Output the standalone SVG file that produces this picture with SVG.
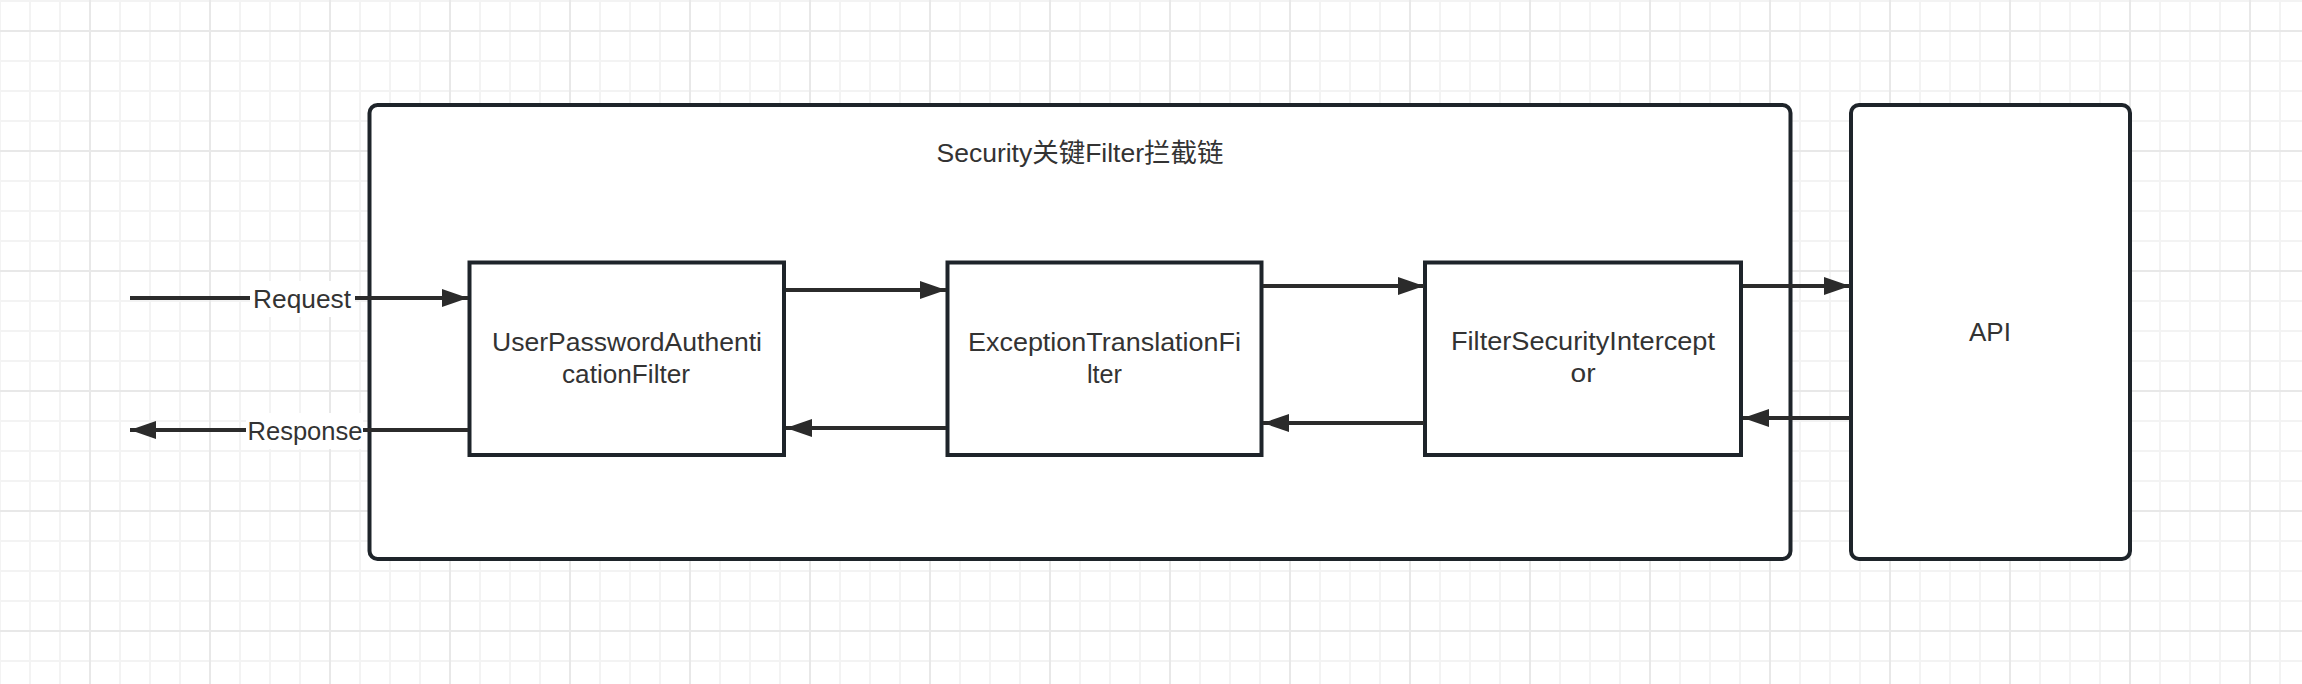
<svg xmlns="http://www.w3.org/2000/svg" width="2302" height="684" viewBox="0 0 2302 684">
  <style>
    .box { fill: #ffffff; stroke: #1e242a; stroke-width: 4; }
    .conn { stroke: #2b2b2b; stroke-width: 4; fill: none; }
    .txt { font-family: "Liberation Sans", "Noto Sans CJK SC", sans-serif; font-size: 26px; fill: #333333; text-anchor: middle; }
  </style>
  <defs>
    <pattern id="gridMinor" patternUnits="userSpaceOnUse" x="-1" y="0" width="30" height="30">
      <rect x="0" y="0" width="2" height="30" fill="#f3f3f3"/>
      <rect x="0" y="0" width="30" height="2" fill="#f3f3f3"/>
    </pattern>
    <pattern id="gridMajor" patternUnits="userSpaceOnUse" x="89" y="30" width="120" height="120">
      <rect x="0" y="0" width="2" height="120" fill="#e8e8e8"/>
      <rect x="0" y="0" width="120" height="2" fill="#e8e8e8"/>
    </pattern>
    <marker id="arrow" markerUnits="userSpaceOnUse" markerWidth="28" markerHeight="20" refX="27" refY="10" orient="auto" overflow="visible">
      <path d="M1,1 L27,10 L1,19 z" fill="#2b2b2b"/>
    </marker>
  </defs>

  <rect x="0" y="0" width="2302" height="684" fill="#ffffff"/>
  <rect x="0" y="0" width="2302" height="684" fill="url(#gridMinor)"/>
  <rect x="0" y="0" width="2302" height="684" fill="url(#gridMajor)"/>

  <g id="security-chain">
    <rect class="box" x="369.5" y="105" width="1421" height="454" rx="8" ry="8"/>
    <text class="txt" x="1080" y="162" textLength="287" lengthAdjust="spacingAndGlyphs">Security关键Filter拦截链</text>
  </g>

  <g id="api">
    <rect class="box" x="1851" y="105" width="279" height="454" rx="8" ry="8"/>
    <text class="txt" x="1990" y="341">API</text>
  </g>

  <g id="user-password-filter">
    <rect class="box" x="469.5" y="262.5" width="314.5" height="192.5"/>
    <text class="txt" x="627" y="351" textLength="270" lengthAdjust="spacingAndGlyphs">UserPasswordAuthenti</text>
    <text class="txt" x="626" y="383" textLength="128" lengthAdjust="spacingAndGlyphs">cationFilter</text>
  </g>

  <g id="exception-translation-filter">
    <rect class="box" x="947.5" y="262.5" width="314" height="192.5"/>
    <text class="txt" x="1104.5" y="351" textLength="273" lengthAdjust="spacingAndGlyphs">ExceptionTranslationFi</text>
    <text class="txt" x="1104.5" y="383" textLength="35" lengthAdjust="spacingAndGlyphs">lter</text>
  </g>

  <g id="filter-security-interceptor">
    <rect class="box" x="1425" y="262.5" width="316" height="192.5"/>
    <text class="txt" x="1583" y="350" textLength="264" lengthAdjust="spacingAndGlyphs">FilterSecurityIntercept</text>
    <text class="txt" x="1583" y="382" textLength="25" lengthAdjust="spacingAndGlyphs">or</text>
  </g>

  <g id="connectors">
    <line class="conn" x1="130" y1="298" x2="468" y2="298" marker-end="url(#arrow)"/>
    <line class="conn" x1="468" y1="430" x2="130" y2="430" marker-end="url(#arrow)"/>
    <line class="conn" x1="786" y1="290" x2="946" y2="290" marker-end="url(#arrow)"/>
    <line class="conn" x1="946" y1="428" x2="786" y2="428" marker-end="url(#arrow)"/>
    <line class="conn" x1="1263" y1="286" x2="1424" y2="286" marker-end="url(#arrow)"/>
    <line class="conn" x1="1424" y1="423" x2="1263" y2="423" marker-end="url(#arrow)"/>
    <line class="conn" x1="1743" y1="286" x2="1850" y2="286" marker-end="url(#arrow)"/>
    <line class="conn" x1="1850" y1="418" x2="1743" y2="418" marker-end="url(#arrow)"/>
    <rect x="250" y="281" width="105" height="36" fill="#ffffff"/>
    <text class="txt" x="302" y="308" textLength="98" lengthAdjust="spacingAndGlyphs">Request</text>
    <rect x="246" y="413" width="117" height="36" fill="#ffffff"/>
    <text class="txt" x="305" y="440" textLength="115" lengthAdjust="spacingAndGlyphs">Response</text>
  </g>
</svg>
